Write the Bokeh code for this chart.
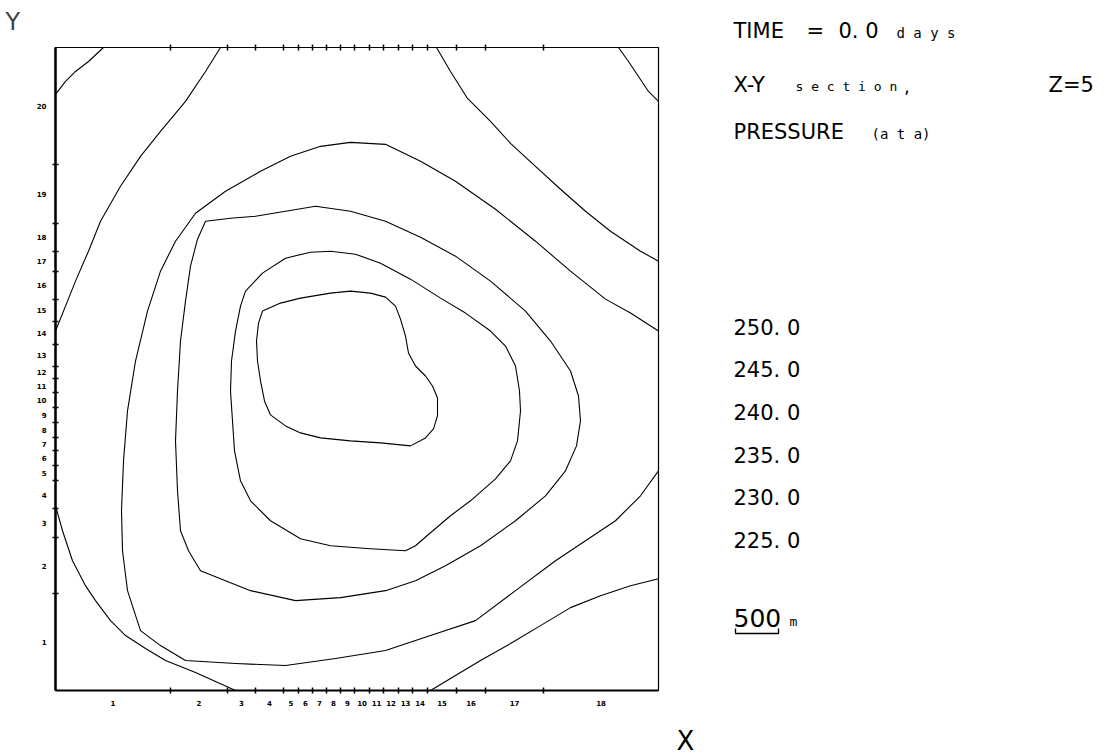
from bokeh.plotting import figure
from bokeh.layouts import row
from bokeh.models import FixedTicker, Label, Range1d, LinearAxis
from bokeh.embed import file_html
from bokeh.resources import INLINE

# Grid block widths (m) along X (blocks 1..18) and heights along Y (blocks 1..20, bottom-up)
x_widths = [1150, 570, 280, 280, 150, 140, 140, 140, 140, 150, 140, 150, 140, 150, 290, 290, 580, 1150]
y_heights = [970, 560, 290, 280, 150, 150, 130, 150, 150, 150, 140, 130, 220, 230, 220, 280, 200, 280, 590, 1170]

levels = ["250. 0", "245. 0", "240. 0", "235. 0", "230. 0", "225. 0"]

# Contour polylines (x, y in metres)
c250_x = [2070, 2250, 2450, 2750, 2950, 3150, 3300, 3400, 3450, 3500, 3530, 3600, 3700, 3770, 3820, 3820, 3780, 3700, 3550,
          3250, 2950, 2650, 2450, 2300, 2150, 2090, 2050, 2020, 2010, 2030, 2070]
c250_y = [3800, 3880, 3930, 3980, 4000, 3980, 3940, 3850, 3720, 3550, 3380, 3250, 3150, 3050, 2930, 2750, 2620, 2530, 2450,
          2480, 2500, 2530, 2580, 2650, 2760, 2900, 3100, 3300, 3500, 3680, 3800]

c245_x = [1900, 2070, 2300, 2550, 2750, 3000, 3250, 3550, 3850, 4100, 4350, 4500, 4600, 4640, 4650, 4620, 4550, 4400, 4150,
          3950, 3750, 3600, 3500, 3150, 2750, 2450, 2150, 1950, 1850, 1790, 1770, 1750, 1760, 1800, 1850, 1900]
c245_y = [4000, 4180, 4330, 4390, 4400, 4370, 4280, 4120, 3930, 3780, 3600, 3450, 3250, 3000, 2800, 2500, 2300, 2120, 1900,
          1750, 1580, 1450, 1400, 1420, 1450, 1520, 1700, 1900, 2100, 2400, 2700, 3000, 3300, 3600, 3850, 4000]

c240_x = [1500, 1750, 2000, 2300, 2600, 2950, 3300, 3650, 4000, 4350, 4700, 4950, 5150, 5230, 5250, 5210, 5100, 4900, 4600,
          4250, 3900, 3600, 3300, 2850, 2400, 1950, 1450, 1330, 1250, 1220, 1200, 1220, 1250, 1300, 1350, 1420, 1500]
c240_y = [4700, 4730, 4750, 4800, 4850, 4800, 4700, 4540, 4350, 4100, 3800, 3500, 3200, 2950, 2700, 2450, 2200, 1950, 1700,
          1450, 1250, 1100, 1000, 930, 900, 1000, 1200, 1400, 1600, 2000, 2500, 3000, 3500, 3900, 4250, 4520, 4700]

c235_x = [6030, 5750, 5500, 5150, 4800, 4400, 4000, 3650, 3300, 2950, 2650, 2350, 2050, 1700, 1400, 1200, 1050, 920, 800,
          720, 680, 660, 670, 720, 850, 1050, 1300, 1800, 2300, 2800, 3300, 3750, 4200, 4600, 5000, 5300, 5600, 5850, 6030]
c235_y = [3600, 3780, 3920, 4200, 4500, 4820, 5100, 5300, 5470, 5490, 5450, 5350, 5200, 5000, 4780, 4500, 4200, 3800, 3300,
          2800, 2300, 1800, 1400, 1000, 600, 450, 300, 270, 250, 320, 400, 550, 700, 1000, 1300, 1500, 1700, 1950, 2200]

c230a_x = [0, 100, 200, 330, 450, 650, 850, 1050, 1300, 1500, 1650]
c230a_y = [3600, 3850, 4100, 4400, 4700, 5050, 5350, 5600, 5900, 6200, 6440]
c230b_x = [3810, 3950, 4120, 4350, 4550, 4800, 5050, 5300, 5550, 5850, 6030]
c230b_y = [6440, 6200, 5930, 5700, 5480, 5250, 5020, 4800, 4600, 4400, 4300]
c230c_x = [0, 70, 170, 300, 400, 550, 700, 900, 1100, 1400, 1800]
c230c_y = [1850, 1600, 1300, 1050, 900, 700, 550, 420, 300, 180, 0]
c230d_x = [3750, 4000, 4250, 4550, 4850, 5150, 5450, 5750, 6030]
c230d_y = [0, 150, 300, 470, 650, 830, 950, 1050, 1120]

c225a_x = [0, 100, 200, 330, 480]
c225a_y = [5970, 6100, 6200, 6300, 6440]
c225b_x = [5630, 5730, 5830, 5930, 6030]
c225b_y = [6440, 6300, 6150, 6000, 5900]

x_edges = [0]
for w in x_widths:
    x_edges.append(x_edges[-1] + w)
y_edges = [0]
for h in y_heights:
    y_edges.append(y_edges[-1] + h)
x_centers = [(x_edges[i] + x_edges[i + 1]) / 2 for i in range(len(x_widths))]
y_centers = [(y_edges[i] + y_edges[i + 1]) / 2 for i in range(len(y_heights))]

H = 756
W1 = 670
W2 = 1114 - W1

p = figure(width=W1, height=H, output_backend="svg", toolbar_location=None,
           x_range=Range1d(0, x_edges[-1]), y_range=Range1d(0, y_edges[-1]),
           min_border_left=55, min_border_right=12, min_border_top=46, min_border_bottom=66,
           x_axis_location=None, y_axis_location=None)
p.grid.visible = False
p.outline_line_color = "black"
p.outline_line_width = 1.2
p.background_fill_color = "white"
p.border_fill_color = "white"

TXT_FONT = "DejaVu Sans"
SMALL_FONT = "DejaVu Sans Mono"

p.title.text = "Y"
p.title.align = "left"
p.title.offset = -50
p.title.text_font = TXT_FONT
p.title.text_font_style = "normal"
p.title.text_font_size = "24px"
p.title.standoff = 14
p.title.vertical_align = "top"

def make_axis(centers, edges, show_labels, lw):
    ax = LinearAxis()
    ax.ticker = FixedTicker(ticks=centers, minor_ticks=edges[1:-1])
    ax.major_label_overrides = {c: (str(i + 1) if show_labels else "") for i, c in enumerate(centers)}
    ax.major_tick_in = 0
    ax.major_tick_out = 0
    ax.minor_tick_in = 3
    ax.minor_tick_out = 3
    ax.minor_tick_line_width = 1.5
    ax.minor_tick_line_color = "black"
    ax.axis_line_width = lw
    ax.axis_line_color = "black"
    ax.major_label_text_font = "DejaVu Sans"
    ax.major_label_text_font_style = "bold"
    ax.major_label_text_font_size = "7px" if show_labels else "0px"
    ax.major_label_text_color = "black"
    ax.major_label_standoff = 6 if show_labels else 0
    return ax

p.add_layout(make_axis(x_centers, x_edges, True, 2), "below")
p.add_layout(make_axis(y_centers, y_edges, True, 2.5), "left")
p.add_layout(make_axis(x_centers, x_edges, False, 1.2), "above")

contours = [
    (c250_x, c250_y), (c245_x, c245_y), (c240_x, c240_y), (c235_x, c235_y),
    (c230a_x, c230a_y), (c230b_x, c230b_y), (c230c_x, c230c_y), (c230d_x, c230d_y),
    (c225a_x, c225a_y), (c225b_x, c225b_y),
]
for cx, cy in contours:
    p.line(cx, cy, line_color="black", line_width=1.1, line_join="round")

# Right-hand annotation panel (coordinates in page pixels)
t = figure(width=W2, height=H, output_backend="svg", toolbar_location=None,
           x_range=Range1d(W1, 1114), y_range=Range1d(H, 0),
           min_border=0, x_axis_location=None, y_axis_location=None)
t.grid.visible = False
t.outline_line_color = None
t.background_fill_color = "white"
t.border_fill_color = "white"
try:
    t.frame_align = False
    p.frame_align = False
except Exception:
    pass

def add_text(x, y, text, size, font=TXT_FONT):
    t.add_layout(Label(x=x, y=y, text=text, text_font=font, text_font_size=size,
                       text_color="black", text_baseline="middle"))

add_text(676, 740, "X", "26px")

add_text(733, 30, "TIME", "21px")
add_text(806, 30, "=", "21px")
add_text(838, 30, "0. 0", "21px")
add_text(896, 32, "d a y s", "14px", SMALL_FONT)
add_text(733, 84, "X-Y", "21px")
add_text(795, 86, "s e c t i o n", "13px", SMALL_FONT)
add_text(902, 86, ",", "15px", SMALL_FONT)
add_text(1048, 84, "Z=5", "21px")
add_text(733, 131, "PRESSURE", "21px")
add_text(871, 133, "(a t a)", "14px", SMALL_FONT)

ys = [327, 369, 412, 455, 497, 540]
for txt, yy in zip(levels, ys):
    add_text(733, yy, txt, "21px")

add_text(733, 617, "500", "25px")
add_text(789, 621, "m", "13px", SMALL_FONT)

# 500 m scale bar
bar_len_px = 43
bar_x = [735, 735, 735 + bar_len_px, 735 + bar_len_px]
bar_y = [628, 633, 633, 628]
t.line(bar_x, bar_y, line_color="black", line_width=1.3)

open("out.html", "w").write(file_html(row(p, t), INLINE))
